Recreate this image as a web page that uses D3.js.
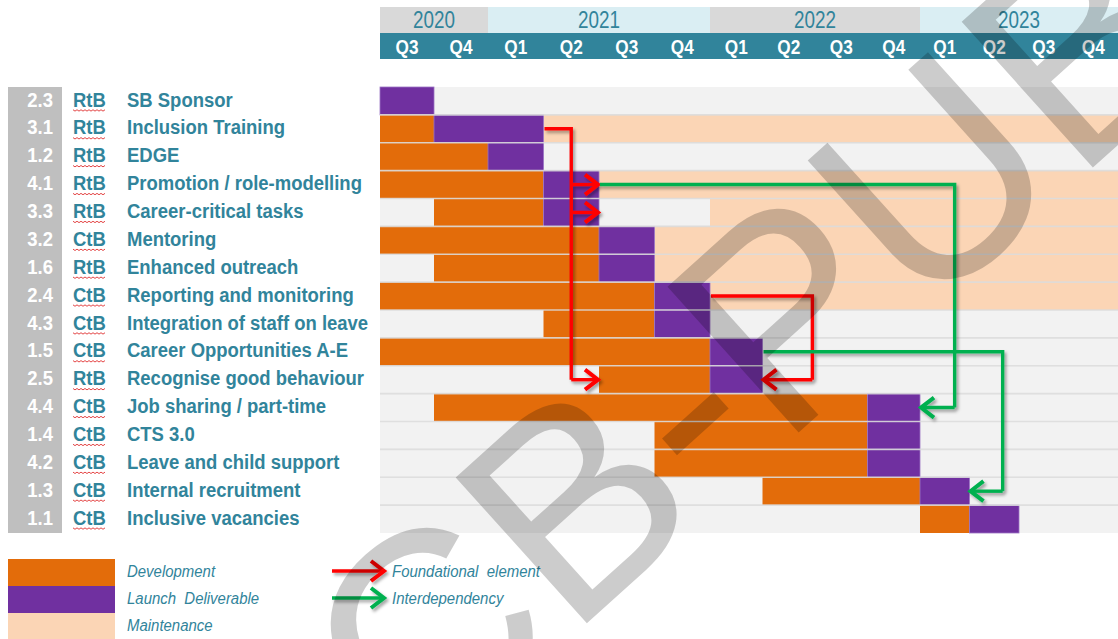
<!DOCTYPE html>
<html>
<head>
<meta charset="utf-8">
<script src="https://cdn.jsdelivr.net/npm/d3@7"></script>
<style>
  body { margin: 0; background: #fff; }
  svg { display: block; }
  .narrow { font-family: "Liberation Sans Narrow", "Arial Narrow", "Liberation Sans", Arial, sans-serif; }
</style>
</head>
<body>
<svg width="1118" height="639"></svg>
<script>
// ---- data ----
var years = ["2020", "2021", "2022", "2023"]
var yearStart = [0, 2, 6, 10]
var yearEnd = [2, 6, 10, 14]
var quarters = ["Q3", "Q4", "Q1", "Q2", "Q3", "Q4", "Q1", "Q2", "Q3", "Q4", "Q1", "Q2", "Q3", "Q4"]

var ids = ["2.3", "3.1", "1.2", "4.1", "3.3", "3.2", "1.6", "2.4", "4.3", "1.5", "2.5", "4.4", "1.4", "4.2", "1.3", "1.1"]
var kinds = ["RtB", "RtB", "RtB", "RtB", "RtB", "CtB", "RtB", "CtB", "CtB", "CtB", "RtB", "CtB", "CtB", "CtB", "CtB", "CtB"]
var tasks = ["SB Sponsor", "Inclusion Training", "EDGE", "Promotion / role-modelling", "Career-critical tasks",
  "Mentoring", "Enhanced outreach", "Reporting and monitoring", "Integration of staff on leave",
  "Career Opportunities A-E", "Recognise good behaviour", "Job sharing / part-time", "CTS 3.0",
  "Leave and child support", "Internal recruitment", "Inclusive vacancies"]
// quarter index: 0 = Q3 2020 ... 13 = Q4 2023, 14 = end
var devStart = [null, 0, 0, 0, 1, 0, 1, 0, 3, 0, 4, 1, 5, 5, 7, 10]
var launchStart = [0, 1, 2, 3, 3, 4, 4, 5, 5, 6, 6, 9, 9, 9, 10, 11]
var launchEnd = [1, 3, 3, 4, 4, 5, 5, 6, 6, 7, 7, 10, 10, 10, 11, 12]
var maintStart = [null, 3, null, 4, 6, 5, 5, 6, null, null, null, null, null, null, null, null]

// arrows: from row/quarter, vertical run at quarter "via", to rows/quarters
var linkType = ["found", "found", "inter", "inter"]
var linkFrom = [1, 7, 3, 9]
var linkFromQ = [3, 6, 4, 7]
var linkVia = [3.5, 7.95, 10.7, 11.67]
var linkTo = [[3, 4, 10], [10], [11], [14]]
var linkToQ = [[4, 4, 4], [7], [10], [11]]

var legendBars = ["Development", "Launch Deliverable", "Maintenance"]
var legendArrows = ["Foundational  element", "Interdependency"]

var teal = "#31849B", orange = "#E36C0A", purple = "#7030A0", peach = "#FBD5B5"
var red = "#FF0000", green = "#00B050"
var squeeze = 0.88

var svg = d3.select("svg")

var defs = svg.append("defs")
defs.append("filter").attr("id", "shadow").attr("x", "-20%").attr("y", "-20%").attr("width", "140%").attr("height", "140%")
  .append("feDropShadow").attr("dx", 2).attr("dy", 2.5).attr("stdDeviation", 1.6)
  .attr("flood-color", "#000").attr("flood-opacity", 0.35)

var x = d3.scaleLinear().domain(yearStart.concat([14])).range([380, 488, 710, 920, 1118])
var y = d3.scaleBand().domain(d3.range(ids.length)).range([87, 533])
var bh = y.bandwidth()

// place a text squeezed horizontally (no narrow font installed)
function at(px, py, s) { return "translate(" + px + "," + py + ") scale(" + (s || squeeze) + ",1)" }

// ---- header ----
var head = svg.append("g").attr("class", "narrow")
head.selectAll("rect.year").data(years).join("rect")
  .attr("x", function(d, i) { return x(yearStart[i]) })
  .attr("width", function(d, i) { return x(yearEnd[i]) - x(yearStart[i]) })
  .attr("y", 7).attr("height", 26)
  .attr("fill", function(d, i) { return i % 2 ? "#DAEEF3" : "#D9D9D9" })
head.selectAll("text.year").data(years).join("text")
  .attr("transform", function(d, i) { return at((x(yearStart[i]) + x(yearEnd[i])) / 2, 20, 0.82) })
  .attr("dy", "0.36em").attr("text-anchor", "middle")
  .attr("fill", teal).style("font-size", "23px").text(function(d) { return d })
head.append("rect").attr("x", x(0)).attr("width", x(14) - x(0)).attr("y", 33).attr("height", 26).attr("fill", teal)
head.selectAll("text.q").data(quarters).join("text")
  .attr("transform", function(d, i) { return at((x(i) + x(i + 1)) / 2, 46, 0.82) })
  .attr("dy", "0.36em").attr("text-anchor", "middle")
  .attr("fill", "#fff").style("font-size", "21px").style("font-weight", "bold").text(function(d) { return d })

// ---- gantt rows ----
var rows = svg.append("g")
var row = rows.selectAll("g").data(ids).join("g")
row.append("rect").attr("x", x(0)).attr("width", x(14) - x(0))
  .attr("y", function(d, i) { return y(i) }).attr("height", bh).attr("fill", "#F2F2F2")
row.filter(function(d, i) { return maintStart[i] != null }).append("rect")
  .attr("x", function(d) { return x(maintStart[ids.indexOf(d)]) })
  .attr("width", function(d) { return x(14) - x(maintStart[ids.indexOf(d)]) })
  .attr("y", function(d) { return y(ids.indexOf(d)) }).attr("height", bh).attr("fill", peach)
row.filter(function(d, i) { return devStart[i] != null }).append("rect")
  .attr("x", function(d) { return x(devStart[ids.indexOf(d)]) })
  .attr("width", function(d) { var i = ids.indexOf(d); return x(launchStart[i]) - x(devStart[i]) })
  .attr("y", function(d) { return y(ids.indexOf(d)) }).attr("height", bh).attr("fill", orange)
row.append("rect")
  .attr("x", function(d, i) { return x(launchStart[i]) })
  .attr("width", function(d, i) { return x(launchEnd[i]) - x(launchStart[i]) })
  .attr("y", function(d, i) { return y(i) }).attr("height", bh).attr("fill", purple)
  .attr("stroke", "#9B74C4").attr("stroke-width", 0.8)
// row separators
rows.selectAll("line.sep").data(d3.range(1, ids.length)).join("line")
  .attr("x1", x(0)).attr("x2", x(14))
  .attr("y1", function(d) { return y(d) }).attr("y2", function(d) { return y(d) })
  .attr("stroke", "#DADADA").attr("stroke-opacity", 0.85).attr("stroke-width", 1.6)

// ---- left labels ----
var left = svg.append("g").attr("class", "narrow")
left.append("rect").attr("x", 8).attr("y", y(0)).attr("width", 54).attr("height", y(15) + bh - y(0)).attr("fill", "#BFBFBF")
left.selectAll("text.id").data(ids).join("text")
  .attr("transform", function(d, i) { return at(53, y(i) + bh / 2 - 2) })
  .attr("dy", "0.36em").attr("text-anchor", "end").attr("fill", "#fff")
  .style("font-size", "21px").style("font-weight", "bold")
  .text(function(d) { return d })
left.selectAll("text.kind").data(kinds).join("text")
  .attr("transform", function(d, i) { return at(73, y(i) + bh / 2 - 2) })
  .attr("dy", "0.36em").attr("fill", teal).style("font-size", "21px").style("font-weight", "bold")
  .text(function(d) { return d })
// spell-check squiggle under RtB / CtB
var squiggle = function(x0, x1, yy) {
  return "M" + d3.range(x0, x1, 2).map(function(v, k) { return v + "," + (yy + (k % 2 ? 1.2 : -0.2)) }).join("L")
}
left.selectAll("path.sq").data(kinds).join("path")
  .attr("d", function(d, i) { return squiggle(73, 107, y(i) + bh / 2 + 9) })
  .attr("fill", "none").attr("stroke", "#E03030").attr("stroke-width", 0.9)
left.selectAll("text.task").data(tasks).join("text")
  .attr("transform", function(d, i) { return at(127, y(i) + bh / 2 - 2) })
  .attr("dy", "0.36em").attr("fill", teal).style("font-size", "21px").style("font-weight", "bold")
  .text(function(d) { return d })

// ---- arrows ----
var arrowG = svg.append("g").attr("filter", "url(#shadow)").attr("fill", "none")
  .attr("stroke-width", 3.4).attr("stroke-linejoin", "miter")
var head2 = function(tx, ty, dir) {
  return "M" + (tx - dir * 13) + "," + (ty - 10) + "L" + tx + "," + ty + "L" + (tx - dir * 13) + "," + (ty + 10)
}
var cy = function(r) { return y(r) + bh / 2 }
linkFrom.forEach(function(fr, k) {
  var col = linkType[k] == "found" ? red : green
  var vx = x(linkVia[k])
  var lastRow = d3.max(linkTo[k])
  var g = arrowG.append("g").attr("stroke", col)
  g.append("path").attr("d", "M" + (x(linkFromQ[k]) + 1) + "," + cy(fr) + "H" + vx + "V" + cy(lastRow))
  linkTo[k].forEach(function(tr, j) {
    var tx = x(linkToQ[k][j])
    var dir = tx > vx ? 1 : -1
    g.append("path").attr("d", "M" + vx + "," + cy(tr) + "H" + (tx - dir * 2))
    g.append("path").attr("d", head2(tx - dir * 1, cy(tr), dir)).attr("stroke-width", 4)
  })
})

// ---- legend ----
var leg = svg.append("g").attr("class", "narrow")
leg.selectAll("rect").data(legendBars).join("rect")
  .attr("x", 8).attr("width", 107).attr("y", function(d, i) { return 559 + i * 27 }).attr("height", 27)
  .attr("fill", function(d, i) { return [orange, purple, peach][i] })
leg.selectAll("text.lb").data(legendBars).join("text")
  .attr("transform", function(d, i) { return at(127, 571 + i * 27) })
  .attr("dy", "0.36em").attr("fill", teal)
  .style("font-size", "17px").style("font-style", "italic").style("white-space", "pre")
  .text(function(d) { return d == "Launch Deliverable" ? "Launch  Deliverable" : d })
var legArrows = leg.append("g").attr("filter", "url(#shadow)").attr("fill", "none")
legendArrows.forEach(function(d, i) {
  var yy = 571 + i * 27
  var col = i == 0 ? red : green
  legArrows.append("path").attr("d", "M332," + yy + "H383").attr("stroke", col).attr("stroke-width", 3.4)
  legArrows.append("path").attr("d", head2(384, yy, 1)).attr("stroke", col).attr("stroke-width", 4)
})
leg.selectAll("text.la").data(legendArrows).join("text")
  .attr("transform", function(d, i) { return at(392, 571 + i * 27) })
  .attr("dy", "0.36em").attr("fill", teal)
  .style("font-size", "17px").style("font-style", "italic").style("white-space", "pre")
  .text(function(d) { return d })

// ---- watermark ----
svg.append("text")
  .attr("transform", "translate(748,340) rotate(-42)")
  .attr("text-anchor", "middle").attr("dy", "0.36em")
  .style("font-family", "'Liberation Sans', Arial, sans-serif").style("font-size", "285px")
  .attr("fill", "#000").attr("fill-opacity", 0.2)
  .text("CB-PUB")
</script>
</body>
</html>
